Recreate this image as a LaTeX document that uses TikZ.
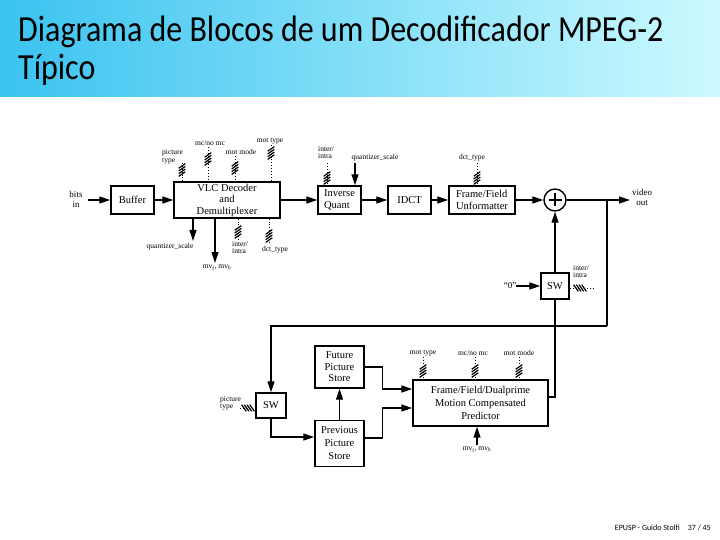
\documentclass[tikz,border=0pt]{standalone}
\usepackage{fontspec}
\setmainfont{Liberation Serif}
\newfontfamily\titlefont{Carlito}
\usetikzlibrary{arrows.meta,calc}
\definecolor{bandL}{RGB}{58,195,240}
\definecolor{bandR}{RGB}{205,250,255}
\tikzset{
  hatch/.pic={\foreach \i in {-1.5,-0.5,0.5,1.5}
      \draw[line width=1.2pt] (-3.3,\i*2.7+2.3) -- (3.3,\i*2.7-2.3);},
  blk/.style={draw, line width=1.4pt, inner sep=0pt, align=center,
      font=\fontsize{10.5}{11.5}\selectfont},
  lbl/.style={inner sep=0pt, align=left, font=\fontsize{7.5}{7.5}\selectfont},
  arr/.style={-{Triangle[length=11pt,width=7pt]}, line width=1.1pt},
  ln/.style={line width=1.1pt},
  ctl/.style={dotted, line width=0.9pt}
}
\begin{document}
\begin{tikzpicture}[x=1pt,y=-1pt]
\useasboundingbox (0,0) rectangle (720,540);
\shade[left color=bandL, right color=bandR] (0,0) rectangle (720,97);
\node[anchor=base west, inner sep=0pt, font=\titlefont\fontsize{32}{38}\selectfont] (t1) at (18,42) {\scalebox{1}[1.15]{Diagrama de Blocos de um Decodificador MPEG-2}};
\node[anchor=base west, inner sep=0pt, font=\titlefont\fontsize{32}{38}\selectfont] (t2) at (18,80) {\scalebox{1}[1.15]{Típico}};
\node[anchor=base east, inner sep=0pt, font=\titlefont\fontsize{8}{8}\selectfont] (foot) at (711,530) {EPUSP - Guido Stolfi\quad 37 / 45};

% main blocks
\node[blk, minimum width=43pt, minimum height=28pt] (buf) at (132.5,200) {Buffer};
\node[blk, minimum width=106pt, minimum height=36pt] (vlc) at (227,200) {VLC Decoder\\and\\Demultiplexer};
\node[blk, minimum width=43pt, minimum height=28pt, align=left] (iq) at (339.5,200) {Inverse\\Quant};
\node[blk, minimum width=43pt, minimum height=28pt] (idct) at (409.5,200) {IDCT};
\node[blk, minimum width=66pt, minimum height=28pt, align=left] (ffu) at (482,200) {Frame/Field\\Unformatter};
\node[draw, circle, line width=1.4pt, minimum size=22pt, inner sep=0pt] (plus) at (555,200) {};
\draw[line width=1.3pt] ($(plus.center)+(-6.5,0)$) -- ($(plus.center)+(6.5,0)$)
  ($(plus.center)+(0,-6.5)$) -- ($(plus.center)+(0,6.5)$);
\node[blk, minimum width=28pt, minimum height=26pt] (sw1) at (555,286) {SW};
\node[blk, minimum width=49pt, minimum height=42pt] (fut) at (339.5,367) {Future\\Picture\\Store};
\node[blk, minimum width=49pt, minimum height=46pt, font=\fontsize{10.5}{13}\selectfont] (prev) at (339.5,443.5) {Previous\\Picture\\Store};
\node[blk, minimum width=30pt, minimum height=25pt] (sw2) at (271,405.5) {SW};
\node[blk, minimum width=135pt, minimum height=46pt, font=\fontsize{10.5}{13}\selectfont] (pred) at (480.5,403) {Frame/Field/Dualprime\\Motion Compensated\\Predictor};

% input / output labels
\node[lbl, align=center, font=\fontsize{9}{10}\selectfont] (bits) at (76,199) {bits\\in};
\node[lbl, align=center, font=\fontsize{9}{10}\selectfont] (vout) at (642,197) {video\\out};
\node[lbl, font=\fontsize{9}{10}\selectfont] (zero) at (510,286) {``0''};
\coordinate (bitsend) at (88,200);
\coordinate (voutend) at (630,200);
\coordinate (br) at (607,200);
\coordinate (fbturn) at (607,326);

% data flow
\draw[arr] (bitsend) -- (buf.west);
\draw[arr] (buf.east) -- (vlc.west);
\draw[arr] (vlc.east) -- (iq.west);
\draw[arr] (iq.east) -- (idct.west);
\draw[arr] (idct.east) -- (ffu.west);
\draw[arr] (ffu.east) -- (plus.west);
\draw[arr] (plus.east) -- (voutend);
\draw[ln] (br) -- (fbturn);
\draw[arr] (fbturn) -| (sw2.north);
\draw[arr] (sw1.north) -- (plus.south);
\draw[arr] (zero.east) -- (sw1.west);
\draw[ln] ($(pred.east)+(0,-6)$) -| (sw1.south);
\draw[arr] (sw2.south) |- ($(prev.west)+(0,-6.5)$);
\draw[arr] (prev.north) -- (fut.south);
\draw[arr] (fut.east) -- ++(18,0) |- ($(pred.west)+(0,-14)$);
\draw[arr] ($(prev.east)+(0,-5.5)$) -- ++(18,0) |- ($(pred.west)+(0,5)$);

% VLC top controls
\node[lbl, anchor=south west] (lpt) at (162,164) {picture\\type};
\coordinate (cpt) at (182,163);
\draw[ctl] (cpt) -- (cpt |- vlc.north);
\pic at (182,170) {hatch};
\node[lbl] (lmc) at (210,143) {mc/no mc};
\coordinate (cmc) at (208,147);
\draw[ctl] (cmc) -- (cmc |- vlc.north);
\pic at (208,159) {hatch};
\node[lbl] (lmm) at (241,152) {mot mode};
\coordinate (cmm) at (235,156);
\draw[ctl] (cmm) -- (cmm |- vlc.north);
\pic at (235,168) {hatch};
\node[lbl] (lmt) at (270,141) {mot type};
\coordinate (cmt) at (271,145);
\draw[ctl] (cmt) -- (cmt |- vlc.north);
\pic at (271,153) {hatch};

% VLC bottom outputs
\coordinate (qs1) at (193,241);
\draw[arr] (qs1 |- vlc.south) -- (qs1);
\node[lbl, anchor=north] (lqs1) at (170,243) {quantizer\_scale};
\coordinate (mv1) at (215,263);
\draw[arr] (mv1 |- vlc.south) -- (mv1);
\node[lbl, anchor=north] (lmv1) at (217,265) {mv\textsubscript{f}, mv\textsubscript{b}};
\coordinate (ii1) at (238,240);
\draw[ctl] (ii1 |- vlc.south) -- (ii1);
\pic at (238,232) {hatch};
\node[lbl, anchor=north west] (lii1) at (232,241) {inter/\\intra};
\coordinate (dt1) at (269,242);
\draw[ctl] (dt1 |- vlc.south) -- (dt1);
\pic at (269,236) {hatch};
\node[lbl, anchor=north] (ldt1) at (275,246) {dct\_type};

% Inverse quant / unformatter controls
\node[lbl, anchor=north west] (lii2) at (318,146) {inter/\\intra};
\coordinate (ii2) at (327,163);
\draw[ctl] (ii2) -- (ii2 |- iq.north);
\pic at (327,178) {hatch};
\node[lbl] (lqs2) at (375,158) {quantizer\_scale};
\coordinate (qs2) at (355,163);
\draw[arr] (qs2) -- (qs2 |- iq.north);
\node[lbl] (ldt2) at (472,158) {dct\_type};
\coordinate (dt2) at (477,163);
\draw[ctl] (dt2) -- (dt2 |- ffu.north);
\pic at (477,178) {hatch};

% SW1 control
\node[lbl, anchor=north west] (lii3) at (573,265) {inter/\\intra};
\coordinate (ii3) at (594,288);
\draw[ctl] (sw1.east |- ii3) -- (ii3);
\pic[rotate=90] at (580,288) {hatch};

% SW2 control
\node[lbl, anchor=north west] (lpt2) at (220,396) {picture\\type};
\coordinate (pt2) at (240,408);
\draw[ctl] (pt2) -- (pt2 -| sw2.west);
\pic[rotate=90] at (248,408) {hatch};

% predictor controls
\node[lbl] (lmt2) at (423,353) {mot type};
\coordinate (mt2) at (423,357);
\draw[ctl] (mt2) -- (mt2 |- pred.north);
\pic at (423,371) {hatch};
\node[lbl] (lmc2) at (473,353) {mc/no mc};
\coordinate (mc2) at (475,357);
\draw[ctl] (mc2) -- (mc2 |- pred.north);
\pic at (475,371) {hatch};
\node[lbl] (lmm2) at (519,353) {mot mode};
\coordinate (mm2) at (519,357);
\draw[ctl] (mm2) -- (mm2 |- pred.north);
\pic at (519,371) {hatch};
\coordinate (mv2) at (477,445);
\draw[arr] (mv2) -- (mv2 |- pred.south);
\node[lbl, anchor=north] (lmv2) at (477,447) {mv\textsubscript{f}, mv\textsubscript{b}};
\end{tikzpicture}
\end{document}
